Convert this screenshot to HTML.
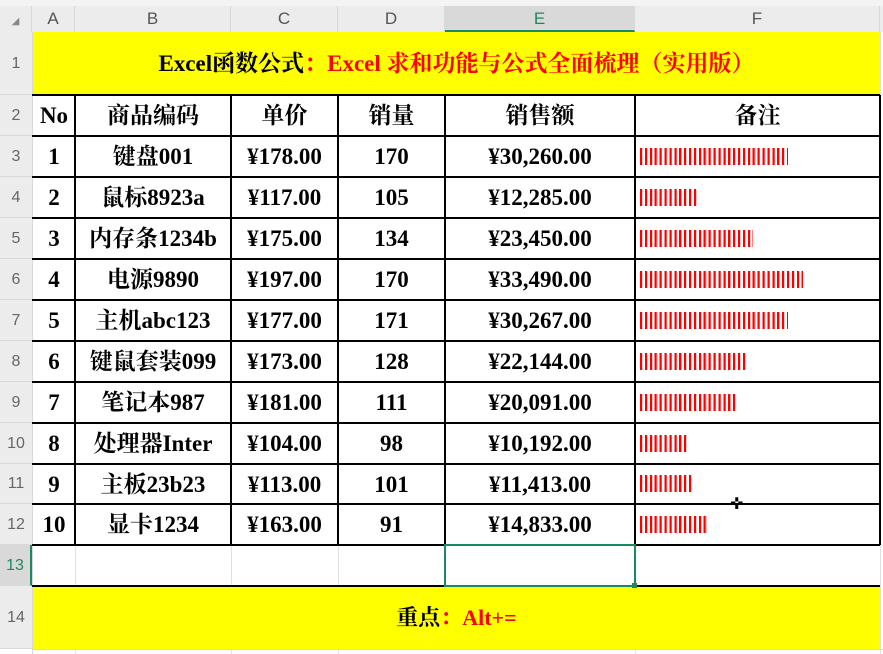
<!DOCTYPE html>
<html><head><meta charset="utf-8"><style>
body{margin:0;width:883px;height:654px;overflow:hidden;background:#fff;position:relative;font-family:"Liberation Serif","Noto Serif CJK SC",serif}
div{position:absolute;box-sizing:border-box}
.ch{top:6px;height:26px;background:#ececec;color:#555;font:17px "Liberation Sans",sans-serif;text-align:center;line-height:26px;border-right:1px solid #d8d8d8}
.rh{left:0;width:32px;background:#ececec;color:#666;font:16px "Liberation Sans",sans-serif;text-align:center;border-bottom:1px solid #d8d8d8}
.c{font-weight:bold;font-size:23px;text-align:center;line-height:41px;height:41px;color:#000;white-space:nowrap}
.hl{background:#000}
.bar{height:17px;background:repeating-linear-gradient(90deg,#f00 0 2px,#ff9090 2px 2.6px,#fff 2.6px 4.9px)}
</style></head><body>
<div style="left:0;top:0;width:883px;height:6px;background:#f4f4f4"></div>
<div style="left:0;top:6px;width:883px;height:26px;background:#ececec"></div>
<div class="ch" style="left:0;width:32px"><span style="font-size:10px;color:#888">◢</span></div>
<div class="ch" style="left:32px;width:43px">A</div>
<div class="ch" style="left:75px;width:156px">B</div>
<div class="ch" style="left:231px;width:107px">C</div>
<div class="ch" style="left:338px;width:107px">D</div>
<div class="ch" style="left:445px;width:190px;background:#d9d9d9;color:#1a8a5e;border-bottom:2px solid #1a8a5e">E</div>
<div class="ch" style="left:635px;width:245px">F</div>

<div class="rh" style="top:32px;height:63px;line-height:63px">1</div>
<div class="rh" style="top:95px;height:41px;line-height:41px">2</div>
<div class="rh" style="top:136px;height:41px;line-height:41px">3</div>
<div class="rh" style="top:177px;height:41px;line-height:41px">4</div>
<div class="rh" style="top:218px;height:41px;line-height:41px">5</div>
<div class="rh" style="top:259px;height:41px;line-height:41px">6</div>
<div class="rh" style="top:300px;height:41px;line-height:41px">7</div>
<div class="rh" style="top:341px;height:41px;line-height:41px">8</div>
<div class="rh" style="top:382px;height:41px;line-height:41px">9</div>
<div class="rh" style="top:423px;height:41px;line-height:41px">10</div>
<div class="rh" style="top:464px;height:40px;line-height:40px">11</div>
<div class="rh" style="top:504px;height:41px;line-height:41px">12</div>
<div class="rh" style="top:545px;height:41px;line-height:41px;background:#d9d9d9;color:#1a8a5e;border-right:2px solid #1a8a5e">13</div>
<div class="rh" style="top:586px;height:63px;line-height:63px">14</div>
<div style="left:32px;top:32px;width:1px;height:622px;background:#d8d8d8"></div>

<div style="left:75px;top:545px;width:1px;height:109px;background:#e0e0e0"></div>
<div style="left:231px;top:545px;width:1px;height:109px;background:#e0e0e0"></div>
<div style="left:338px;top:545px;width:1px;height:109px;background:#e0e0e0"></div>
<div style="left:635px;top:545px;width:1px;height:109px;background:#e0e0e0"></div>
<div style="left:32px;top:649px;width:851px;height:1px;background:#d8d8d8"></div>
<div style="left:880px;top:32px;width:1px;height:622px;background:#e0e0e0"></div>

<div style="left:33px;top:32px;width:847px;height:63px;background:#ff0;text-align:center;line-height:63px;font-weight:bold;font-size:23px">Excel函数公式<span style="color:#f00">：Excel 求和功能与公式全面梳理（实用版）</span></div>
<div style="left:33px;top:587px;width:847px;height:62px;background:#ff0;text-align:center;line-height:62px;font-weight:bold;font-size:22px">重点<span style="color:#f00">：Alt+=</span></div>

<div class="hl" style="left:32px;top:94px;width:848px;height:2px"></div>
<div class="hl" style="left:32px;top:135px;width:848px;height:2px"></div>
<div class="hl" style="left:32px;top:176px;width:848px;height:2px"></div>
<div class="hl" style="left:32px;top:217px;width:848px;height:2px"></div>
<div class="hl" style="left:32px;top:258px;width:848px;height:2px"></div>
<div class="hl" style="left:32px;top:299px;width:848px;height:2px"></div>
<div class="hl" style="left:32px;top:340px;width:848px;height:2px"></div>
<div class="hl" style="left:32px;top:381px;width:848px;height:2px"></div>
<div class="hl" style="left:32px;top:422px;width:848px;height:2px"></div>
<div class="hl" style="left:32px;top:463px;width:848px;height:2px"></div>
<div class="hl" style="left:32px;top:503px;width:848px;height:2px"></div>
<div class="hl" style="left:32px;top:544px;width:848px;height:2px"></div>
<div class="hl" style="left:32px;top:585px;width:848px;height:2px"></div>
<div class="hl" style="left:74px;top:95px;width:2px;height:450px"></div>
<div class="hl" style="left:230px;top:95px;width:2px;height:450px"></div>
<div class="hl" style="left:337px;top:95px;width:2px;height:450px"></div>
<div class="hl" style="left:444px;top:95px;width:2px;height:450px"></div>
<div class="hl" style="left:634px;top:95px;width:2px;height:450px"></div>
<div class="hl" style="left:879px;top:95px;width:2px;height:450px"></div>

<div style="left:444px;top:544px;width:192px;height:43px;border:2px solid #1a8a5e"></div>
<div style="left:632px;top:583px;width:5px;height:5px;background:#1a8a5e"></div>

<div class="c" style="left:33px;top:95px;width:42px">No</div>
<div class="c" style="left:75px;top:95px;width:156px">商品编码</div>
<div class="c" style="left:231px;top:95px;width:107px">单价</div>
<div class="c" style="left:338px;top:95px;width:107px">销量</div>
<div class="c" style="left:445px;top:95px;width:190px">销售额</div>
<div class="c" style="left:635px;top:95px;width:245px">备注</div>

<div class="c" style="left:33px;top:136px;width:42px">1</div><div class="c" style="left:75px;top:136px;width:156px">键盘001</div><div class="c" style="left:231px;top:136px;width:107px">¥178.00</div><div class="c" style="left:338px;top:136px;width:107px">170</div><div class="c" style="left:445px;top:136px;width:190px">¥30,260.00</div><div class="bar" style="left:640px;top:148px;width:148px"></div>
<div class="c" style="left:33px;top:177px;width:42px">2</div><div class="c" style="left:75px;top:177px;width:156px">鼠标8923a</div><div class="c" style="left:231px;top:177px;width:107px">¥117.00</div><div class="c" style="left:338px;top:177px;width:107px">105</div><div class="c" style="left:445px;top:177px;width:190px">¥12,285.00</div><div class="bar" style="left:640px;top:189px;width:58px"></div>
<div class="c" style="left:33px;top:218px;width:42px">3</div><div class="c" style="left:75px;top:218px;width:156px">内存条1234b</div><div class="c" style="left:231px;top:218px;width:107px">¥175.00</div><div class="c" style="left:338px;top:218px;width:107px">134</div><div class="c" style="left:445px;top:218px;width:190px">¥23,450.00</div><div class="bar" style="left:640px;top:230px;width:113px"></div>
<div class="c" style="left:33px;top:259px;width:42px">4</div><div class="c" style="left:75px;top:259px;width:156px">电源9890</div><div class="c" style="left:231px;top:259px;width:107px">¥197.00</div><div class="c" style="left:338px;top:259px;width:107px">170</div><div class="c" style="left:445px;top:259px;width:190px">¥33,490.00</div><div class="bar" style="left:640px;top:271px;width:163px"></div>
<div class="c" style="left:33px;top:300px;width:42px">5</div><div class="c" style="left:75px;top:300px;width:156px">主机abc123</div><div class="c" style="left:231px;top:300px;width:107px">¥177.00</div><div class="c" style="left:338px;top:300px;width:107px">171</div><div class="c" style="left:445px;top:300px;width:190px">¥30,267.00</div><div class="bar" style="left:640px;top:312px;width:148px"></div>
<div class="c" style="left:33px;top:341px;width:42px">6</div><div class="c" style="left:75px;top:341px;width:156px">键鼠套装099</div><div class="c" style="left:231px;top:341px;width:107px">¥173.00</div><div class="c" style="left:338px;top:341px;width:107px">128</div><div class="c" style="left:445px;top:341px;width:190px">¥22,144.00</div><div class="bar" style="left:640px;top:353px;width:108px"></div>
<div class="c" style="left:33px;top:382px;width:42px">7</div><div class="c" style="left:75px;top:382px;width:156px">笔记本987</div><div class="c" style="left:231px;top:382px;width:107px">¥181.00</div><div class="c" style="left:338px;top:382px;width:107px">111</div><div class="c" style="left:445px;top:382px;width:190px">¥20,091.00</div><div class="bar" style="left:640px;top:394px;width:98px"></div>
<div class="c" style="left:33px;top:423px;width:42px">8</div><div class="c" style="left:75px;top:423px;width:156px">处理器Inter</div><div class="c" style="left:231px;top:423px;width:107px">¥104.00</div><div class="c" style="left:338px;top:423px;width:107px">98</div><div class="c" style="left:445px;top:423px;width:190px">¥10,192.00</div><div class="bar" style="left:640px;top:435px;width:48px"></div>
<div class="c" style="left:33px;top:464px;width:42px">9</div><div class="c" style="left:75px;top:464px;width:156px">主板23b23</div><div class="c" style="left:231px;top:464px;width:107px">¥113.00</div><div class="c" style="left:338px;top:464px;width:107px">101</div><div class="c" style="left:445px;top:464px;width:190px">¥11,413.00</div><div class="bar" style="left:640px;top:475px;width:53px"></div>
<div class="c" style="left:33px;top:504px;width:42px">10</div><div class="c" style="left:75px;top:504px;width:156px">显卡1234</div><div class="c" style="left:231px;top:504px;width:107px">¥163.00</div><div class="c" style="left:338px;top:504px;width:107px">91</div><div class="c" style="left:445px;top:504px;width:190px">¥14,833.00</div><div class="bar" style="left:640px;top:516px;width:68px"></div>

<div style="left:730px;top:497px;width:14px;height:14px;font:bold 16px 'DejaVu Sans',sans-serif;line-height:14px;color:#000">✜</div>
</body></html>
